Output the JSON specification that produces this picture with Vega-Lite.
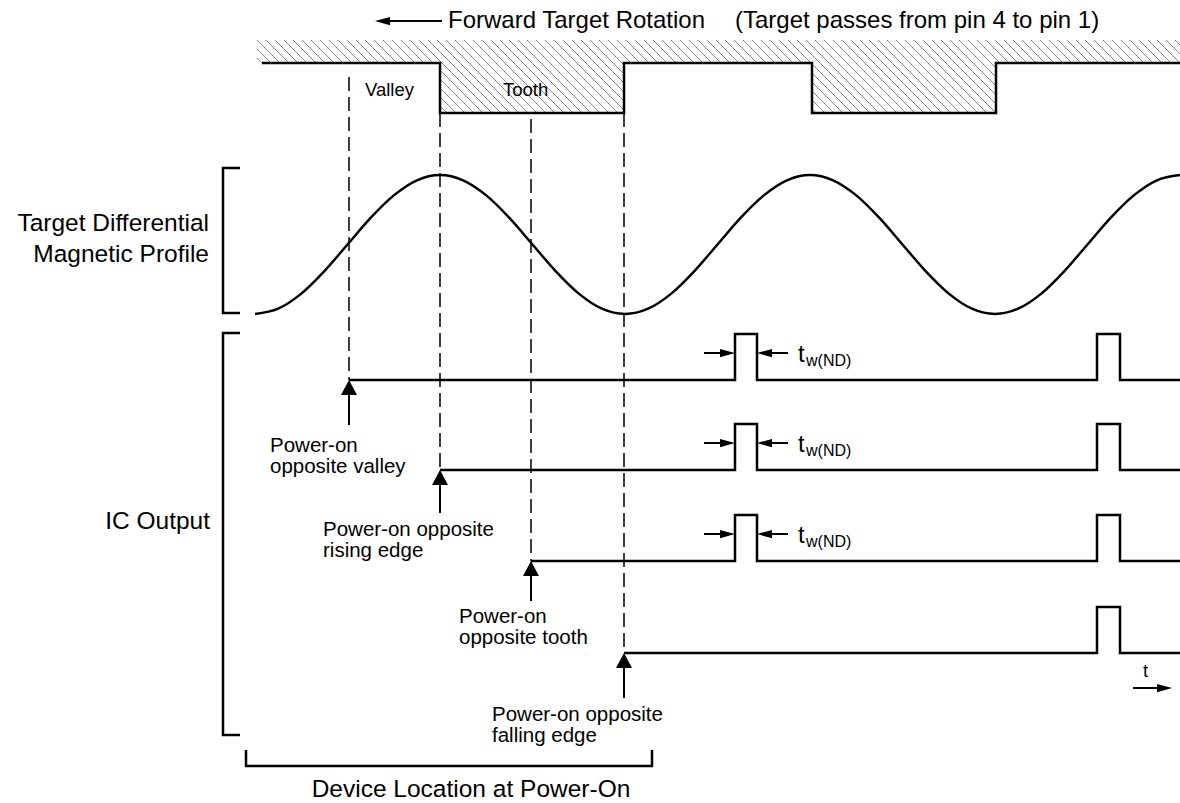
{
  "$schema": "https://vega.github.io/schema/vega-lite/v6.json",
  "width": 1180,
  "height": 803,
  "padding": 0,
  "autosize": {"type": "none"},
  "background": "white",
  "config": {"view": {"stroke": null}, "font": "Liberation Sans"},
  "datasets": {
    "hatch": [
      {"h":185},{"h":194},{"h":203},{"h":212},{"h":221},{"h":230},{"h":239},{"h":248},{"h":257},{"h":266},{"h":275},{"h":284},{"h":293},{"h":302},{"h":311},{"h":320},{"h":329},{"h":338},{"h":347},{"h":356},{"h":365},{"h":374},{"h":383},{"h":392},{"h":401},{"h":410},{"h":419},{"h":428},{"h":437},{"h":446},{"h":455},{"h":464},{"h":473},{"h":482},{"h":491},{"h":500},{"h":509},{"h":518},{"h":527},{"h":536},{"h":545},{"h":554},{"h":563},{"h":572},{"h":581},{"h":590},{"h":599},{"h":608},{"h":617},{"h":626},{"h":635},{"h":644},{"h":653},{"h":662},{"h":671},{"h":680},{"h":689},{"h":698},{"h":707},{"h":716},{"h":725},{"h":734},{"h":743},{"h":752},{"h":761},{"h":770},{"h":779},{"h":788},{"h":797},{"h":806},{"h":815},{"h":824},{"h":833},{"h":842},{"h":851},{"h":860},{"h":869},{"h":878},{"h":887},{"h":896},{"h":905},{"h":914},{"h":923},{"h":932},{"h":941},{"h":950},{"h":959},{"h":968},{"h":977},{"h":986},{"h":995},{"h":1004},{"h":1013},{"h":1022},{"h":1031},{"h":1040},{"h":1049},{"h":1058},{"h":1067},{"h":1076},{"h":1085},{"h":1094},{"h":1103},{"h":1112},{"h":1121},{"h":1130},{"h":1139},{"h":1148},{"h":1157},{"h":1166},{"h":1175}
    ],
    "masks": [
      {"x":150,"x2":257,"y":30,"y2":120},
      {"x":257,"x2":440,"y":63,"y2":120},
      {"x":624,"x2":812,"y":63,"y2":120},
      {"x":996,"x2":1185,"y":63,"y2":120}
    ],
    "dashes": [
      {"x":349,"y":77,"y2":380},
      {"x":440,"y":113,"y2":470},
      {"x":531,"y":119,"y2":561},
      {"x":624,"y":113,"y2":653}
    ],
    "paths": [
      {"id":"profile","i":0,"x":262,"y":63},{"id":"profile","i":1,"x":440,"y":63},{"id":"profile","i":2,"x":440,"y":113},{"id":"profile","i":3,"x":624,"y":113},{"id":"profile","i":4,"x":624,"y":63},{"id":"profile","i":5,"x":812,"y":63},{"id":"profile","i":6,"x":812,"y":113},{"id":"profile","i":7,"x":996,"y":113},{"id":"profile","i":8,"x":996,"y":63},{"id":"profile","i":9,"x":1180,"y":63},
      {"id":"b1","i":0,"x":240,"y":168},{"id":"b1","i":1,"x":223,"y":168},{"id":"b1","i":2,"x":223,"y":313},{"id":"b1","i":3,"x":240,"y":313},
      {"id":"b2","i":0,"x":240,"y":333},{"id":"b2","i":1,"x":223,"y":333},{"id":"b2","i":2,"x":223,"y":735},{"id":"b2","i":3,"x":240,"y":735},
      {"id":"b3","i":0,"x":246,"y":750},{"id":"b3","i":1,"x":246,"y":766},{"id":"b3","i":2,"x":652,"y":766},{"id":"b3","i":3,"x":652,"y":750},
      {"id":"sA","i":0,"x":349,"y":380},{"id":"sA","i":1,"x":735,"y":380},{"id":"sA","i":2,"x":735,"y":334},{"id":"sA","i":3,"x":757,"y":334},{"id":"sA","i":4,"x":757,"y":380},{"id":"sA","i":5,"x":1097,"y":380},{"id":"sA","i":6,"x":1097,"y":334},{"id":"sA","i":7,"x":1120,"y":334},{"id":"sA","i":8,"x":1120,"y":380},{"id":"sA","i":9,"x":1180,"y":380},
      {"id":"sB","i":0,"x":440,"y":470},{"id":"sB","i":1,"x":735,"y":470},{"id":"sB","i":2,"x":735,"y":424},{"id":"sB","i":3,"x":757,"y":424},{"id":"sB","i":4,"x":757,"y":470},{"id":"sB","i":5,"x":1097,"y":470},{"id":"sB","i":6,"x":1097,"y":424},{"id":"sB","i":7,"x":1120,"y":424},{"id":"sB","i":8,"x":1120,"y":470},{"id":"sB","i":9,"x":1180,"y":470},
      {"id":"sC","i":0,"x":531,"y":561},{"id":"sC","i":1,"x":735,"y":561},{"id":"sC","i":2,"x":735,"y":515},{"id":"sC","i":3,"x":757,"y":515},{"id":"sC","i":4,"x":757,"y":561},{"id":"sC","i":5,"x":1097,"y":561},{"id":"sC","i":6,"x":1097,"y":515},{"id":"sC","i":7,"x":1120,"y":515},{"id":"sC","i":8,"x":1120,"y":561},{"id":"sC","i":9,"x":1180,"y":561},
      {"id":"sD","i":0,"x":624,"y":653},{"id":"sD","i":1,"x":1097,"y":653},{"id":"sD","i":2,"x":1097,"y":607},{"id":"sD","i":3,"x":1120,"y":607},{"id":"sD","i":4,"x":1120,"y":653},{"id":"sD","i":5,"x":1180,"y":653}
    ],
    "sine": [
      {"x":255,"y":314},{"x":278.1,"y":308.7},{"x":301.3,"y":293.6},{"x":324.4,"y":271.1},{"x":347.5,"y":244.5},{"x":370.6,"y":217.9},{"x":393.8,"y":195.4},{"x":416.9,"y":180.3},
      {"x":440,"y":175},{"x":463.1,"y":180.3},{"x":486.3,"y":195.4},{"x":509.4,"y":217.9},{"x":532.5,"y":244.5},{"x":555.6,"y":271.1},{"x":578.8,"y":293.6},{"x":601.9,"y":308.7},
      {"x":625,"y":314},{"x":648.1,"y":308.7},{"x":671.3,"y":293.6},{"x":694.4,"y":271.1},{"x":717.5,"y":244.5},{"x":740.6,"y":217.9},{"x":763.8,"y":195.4},{"x":786.9,"y":180.3},
      {"x":810,"y":175},{"x":833.1,"y":180.3},{"x":856.3,"y":195.4},{"x":879.4,"y":217.9},{"x":902.5,"y":244.5},{"x":925.6,"y":271.1},{"x":948.8,"y":293.6},{"x":971.9,"y":308.7},
      {"x":995,"y":314},{"x":1018.1,"y":308.7},{"x":1041.3,"y":293.6},{"x":1064.4,"y":271.1},{"x":1087.5,"y":244.5},{"x":1110.6,"y":217.9},{"x":1133.8,"y":195.4},{"x":1156.9,"y":180.3},
      {"x":1180,"y":175}
    ],
    "shafts": [
      {"x":349,"x2":349,"y":385,"y2":425},
      {"x":440,"x2":440,"y":475,"y2":513},
      {"x":531,"x2":531,"y":566,"y2":601},
      {"x":624,"x2":624,"y":658,"y2":698},
      {"x":704,"x2":725,"y":353,"y2":353},
      {"x":768,"x2":788,"y":353,"y2":353},
      {"x":704,"x2":725,"y":443,"y2":443},
      {"x":768,"x2":788,"y":443,"y2":443},
      {"x":704,"x2":725,"y":534,"y2":534},
      {"x":768,"x2":788,"y":534,"y2":534},
      {"x":385,"x2":442,"y":21,"y2":21},
      {"x":1133,"x2":1162,"y":688,"y2":688}
    ],
    "heads": [
      {"x":349,"y":380,"dir":"up"},
      {"x":440,"y":470,"dir":"up"},
      {"x":531,"y":561,"dir":"up"},
      {"x":624,"y":653,"dir":"up"},
      {"x":735,"y":353,"dir":"right"},
      {"x":757,"y":353,"dir":"left"},
      {"x":735,"y":443,"dir":"right"},
      {"x":757,"y":443,"dir":"left"},
      {"x":735,"y":534,"dir":"right"},
      {"x":757,"y":534,"dir":"left"},
      {"x":375,"y":21,"dir":"left"},
      {"x":1172,"y":688,"dir":"right"}
    ],
    "texts": [
      {"g":"big","x":448,"y":28,"t":"Forward Target Rotation"},
      {"g":"big","x":735,"y":28,"t":"(Target passes from pin 4 to pin 1)"},
      {"g":"bigR","x":209,"y":231,"t":"Target Differential\nMagnetic Profile"},
      {"g":"bigR","x":210,"y":529,"t":"IC Output"},
      {"g":"bigC","x":471,"y":797,"t":"Device Location at Power-On"},
      {"g":"mid","x":365,"y":96,"t":"Valley"},
      {"g":"mid","x":503,"y":96,"t":"Tooth"},
      {"g":"lbl","x":270,"y":452,"t":"Power-on\nopposite valley"},
      {"g":"lbl","x":323,"y":536,"t":"Power-on opposite\nrising edge"},
      {"g":"lbl","x":459,"y":623,"t":"Power-on\nopposite tooth"},
      {"g":"lbl","x":492,"y":721,"t":"Power-on opposite\nfalling edge"},
      {"g":"tw","x":798,"y":362,"t":"t"},
      {"g":"tw","x":798,"y":452,"t":"t"},
      {"g":"tw","x":798,"y":543,"t":"t"},
      {"g":"sub","x":806,"y":366,"t":"w(ND)"},
      {"g":"sub","x":806,"y":456,"t":"w(ND)"},
      {"g":"sub","x":806,"y":547,"t":"w(ND)"},
      {"g":"mid","x":1143,"y":677,"t":"t"}
    ]
  },
  "layer": [
    {
      "data": {"name": "hatch"},
      "mark": {"type": "rule", "color": "#7a7a7a", "strokeWidth": 0.9, "x2Offset": 73, "clip": true},
      "encoding": {
        "x": {"field": "h", "type": "quantitative", "scale": {"domain": [0, 1180], "nice": false, "zero": false}, "axis": null},
        "x2": {"field": "h"},
        "y": {"datum": 40, "type": "quantitative", "scale": {"domain": [0, 803], "nice": false, "zero": false, "reverse": true}, "axis": null},
        "y2": {"datum": 113}
      }
    },
    {
      "data": {"name": "masks"},
      "mark": {"type": "rect", "color": "white", "clip": true},
      "encoding": {
        "x": {"field": "x", "type": "quantitative", "axis": null},
        "x2": {"field": "x2"},
        "y": {"field": "y", "type": "quantitative", "axis": null},
        "y2": {"field": "y2"}
      }
    },
    {
      "data": {"name": "dashes"},
      "mark": {"type": "rule", "color": "black", "strokeWidth": 1.5, "strokeDash": [14, 6]},
      "encoding": {
        "x": {"field": "x", "type": "quantitative", "axis": null},
        "y": {"field": "y", "type": "quantitative", "axis": null},
        "y2": {"field": "y2"}
      }
    },
    {
      "data": {"name": "paths"},
      "mark": {"type": "line", "color": "black", "strokeWidth": 2.5, "strokeJoin": "miter", "strokeCap": "butt"},
      "encoding": {
        "x": {"field": "x", "type": "quantitative", "axis": null},
        "y": {"field": "y", "type": "quantitative", "axis": null},
        "detail": {"field": "id"},
        "order": {"field": "i", "type": "quantitative"}
      }
    },
    {
      "data": {"name": "sine"},
      "mark": {"type": "line", "color": "black", "strokeWidth": 2.5, "interpolate": "monotone"},
      "encoding": {
        "x": {"field": "x", "type": "quantitative", "axis": null},
        "y": {"field": "y", "type": "quantitative", "axis": null}
      }
    },
    {
      "data": {"name": "shafts"},
      "mark": {"type": "rule", "color": "black", "strokeWidth": 2},
      "encoding": {
        "x": {"field": "x", "type": "quantitative", "axis": null},
        "x2": {"field": "x2"},
        "y": {"field": "y", "type": "quantitative", "axis": null},
        "y2": {"field": "y2"}
      }
    },
    {
      "data": {"name": "heads"},
      "mark": {"type": "point", "filled": true, "color": "black", "opacity": 1, "size": 225, "strokeWidth": 0},
      "encoding": {
        "x": {"field": "x", "type": "quantitative", "axis": null},
        "y": {"field": "y", "type": "quantitative", "axis": null},
        "shape": {"field": "dir", "type": "nominal", "legend": null, "scale": {"domain": ["up", "right", "left"], "range": ["M0,0L1.07,2L-1.07,2Z", "M0,0L-2,-0.55L-2,0.55Z", "M0,0L2,-0.55L2,0.55Z"]}}
      }
    },
    {
      "data": {"name": "texts"},
      "transform": [{"filter": "datum.g === 'big'"}],
      "mark": {"type": "text", "font": "Liberation Sans", "fontSize": 24, "align": "left", "baseline": "alphabetic", "color": "black"},
      "encoding": {
        "x": {"field": "x", "type": "quantitative", "axis": null},
        "y": {"field": "y", "type": "quantitative", "axis": null},
        "text": {"field": "t"}
      }
    },
    {
      "data": {"name": "texts"},
      "transform": [{"filter": "datum.g === 'bigR'"}],
      "mark": {"type": "text", "font": "Liberation Sans", "fontSize": 24.5, "align": "right", "baseline": "alphabetic", "color": "black", "lineBreak": "\n", "lineHeight": 31},
      "encoding": {
        "x": {"field": "x", "type": "quantitative", "axis": null},
        "y": {"field": "y", "type": "quantitative", "axis": null},
        "text": {"field": "t"}
      }
    },
    {
      "data": {"name": "texts"},
      "transform": [{"filter": "datum.g === 'bigC'"}],
      "mark": {"type": "text", "font": "Liberation Sans", "fontSize": 24.5, "align": "center", "baseline": "alphabetic", "color": "black"},
      "encoding": {
        "x": {"field": "x", "type": "quantitative", "axis": null},
        "y": {"field": "y", "type": "quantitative", "axis": null},
        "text": {"field": "t"}
      }
    },
    {
      "data": {"name": "texts"},
      "transform": [{"filter": "datum.g === 'mid'"}],
      "mark": {"type": "text", "font": "Liberation Sans", "fontSize": 18.5, "align": "left", "baseline": "alphabetic", "color": "black"},
      "encoding": {
        "x": {"field": "x", "type": "quantitative", "axis": null},
        "y": {"field": "y", "type": "quantitative", "axis": null},
        "text": {"field": "t"}
      }
    },
    {
      "data": {"name": "texts"},
      "transform": [{"filter": "datum.g === 'lbl'"}],
      "mark": {"type": "text", "font": "Liberation Sans", "fontSize": 20.5, "align": "left", "baseline": "alphabetic", "color": "black", "lineBreak": "\n", "lineHeight": 21},
      "encoding": {
        "x": {"field": "x", "type": "quantitative", "axis": null},
        "y": {"field": "y", "type": "quantitative", "axis": null},
        "text": {"field": "t"}
      }
    },
    {
      "data": {"name": "texts"},
      "transform": [{"filter": "datum.g === 'tw'"}],
      "mark": {"type": "text", "font": "Liberation Sans", "fontSize": 24, "align": "left", "baseline": "alphabetic", "color": "black"},
      "encoding": {
        "x": {"field": "x", "type": "quantitative", "axis": null},
        "y": {"field": "y", "type": "quantitative", "axis": null},
        "text": {"field": "t"}
      }
    },
    {
      "data": {"name": "texts"},
      "transform": [{"filter": "datum.g === 'sub'"}],
      "mark": {"type": "text", "font": "Liberation Sans", "fontSize": 16, "align": "left", "baseline": "alphabetic", "color": "black"},
      "encoding": {
        "x": {"field": "x", "type": "quantitative", "axis": null},
        "y": {"field": "y", "type": "quantitative", "axis": null},
        "text": {"field": "t"}
      }
    }
  ]
}
